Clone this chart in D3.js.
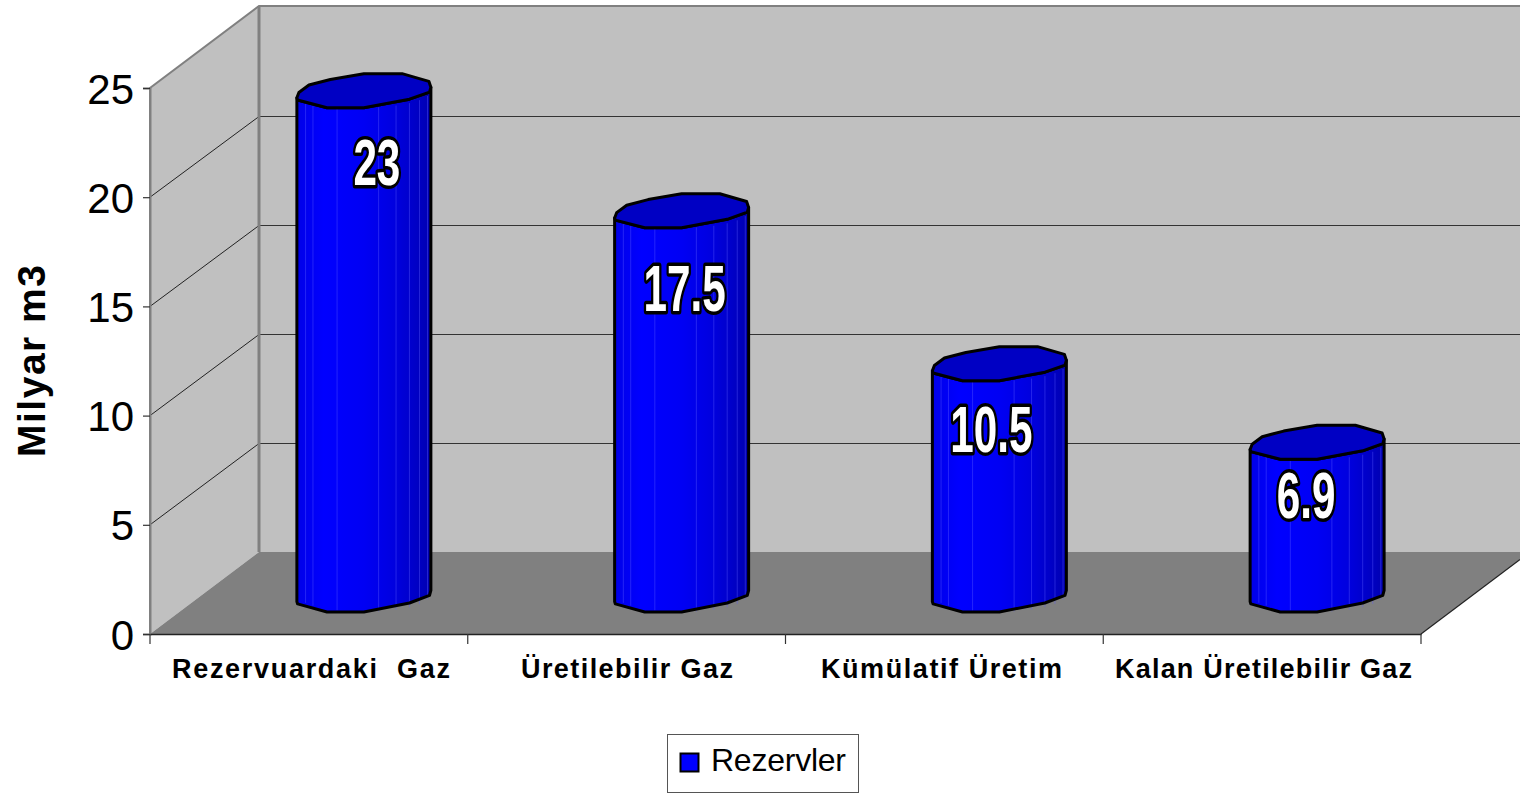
<!DOCTYPE html>
<html><head><meta charset="utf-8">
<script src="https://cdnjs.cloudflare.com/ajax/libs/d3/7.8.5/d3.min.js"></script>
<style>html,body{margin:0;background:#fff;overflow:hidden}svg{display:block;font-family:"Liberation Sans",Arial,sans-serif}</style>
</head><body><svg id="c" width="1520" height="793"></svg>
<script>
const categories = ["Rezervuardaki  Gaz","Üretilebilir Gaz","Kümülatif Üretim","Kalan Üretilebilir Gaz"];
const values = [23,17.5,10.5,6.9];
const valueLabels = ["23","17.5","10.5","6.9"];
const yTicks = [0,5,10,15,20,25];
const seriesName = "Rezervler";
const axisTitle = "Milyar m3";

const svg = d3.select("#c");
const L=150,R=1421,Y0=634,Y25=88,DX=109,DY=82;
const x = d3.scaleBand().domain(categories).range([L,R]);
const y = d3.scaleLinear().domain([0,25]).range([Y0,Y25]);

// walls and floor
const wall="#c0c0c0", floor="#808080";
svg.append("polygon").attr("fill",wall).attr("points",[[L,y(25)],[L+DX,y(25)-DY],[1520,y(25)-DY],[1520,y(0)-DY],[L+DX,y(0)-DY],[L,y(0)]].join(" "));
svg.append("polygon").attr("fill",floor).attr("points",[[L,y(0)],[L+DX,y(0)-DY],[1520,y(0)-DY],[1520,y(0)-DY+ (R+DX-1520)*DY/DX],[R,y(0)]].join(" "));
// gridlines
yTicks.slice(1,-1).forEach(t=>{
  const by=Math.round(y(t)-DY+.6)+.5;
  svg.append("line").attr("x1",L).attr("y1",y(t)).attr("x2",L+DX).attr("y2",by).attr("stroke","#222").attr("stroke-width",1);
  svg.append("line").attr("x1",L+DX).attr("y1",by).attr("x2",1520).attr("y2",by).attr("stroke","#333").attr("stroke-width",1);
});
// wall borders
const grey="#808080";
svg.append("path").attr("fill","none").attr("stroke",grey).attr("stroke-width",2)
  .attr("d",`M${L},${y(0)}V${y(25)}L${L+DX},${y(25)-DY}H1520`);
svg.append("line").attr("x1",L+DX).attr("x2",L+DX).attr("y1",y(25)-DY).attr("y2",y(0)-DY).attr("stroke",grey).attr("stroke-width",3);
svg.append("line").attr("x1",R).attr("y1",y(0)).attr("x2",1520).attr("y2",y(0)-(1520-R)*DY/DX).attr("stroke","#222").attr("stroke-width",1.2);

// axes
const gy = svg.append("g").attr("transform",`translate(${L},0)`).call(d3.axisLeft(y).tickValues(yTicks).tickSize(7).tickPadding(9));
gy.select(".domain").attr("stroke",grey).attr("stroke-width",2);
gy.selectAll("line").attr("stroke","#333").attr("stroke-width",1.2);
gy.selectAll("text").attr("font-size",42).attr("fill","#000").attr("font-family",'"Liberation Sans"').attr("dy","0.36em");
const gx = svg.append("g").attr("transform",`translate(0,${Y0})`).call(d3.axisBottom(x).tickValues([]).tickSizeOuter(0));
gx.select(".domain").attr("stroke","#222").attr("stroke-width",1.6);
const edges = d3.range(categories.length+1).map(i=>L+i*x.bandwidth());
svg.selectAll("line.xt").data(edges).join("line").attr("class","xt").attr("x1",d=>d).attr("x2",d=>d).attr("y1",Y0).attr("y2",Y0+10).attr("stroke","#333").attr("stroke-width",1.2);
const xLabelWidths=[278,212,241,297];
const xLabelCenters=[311,627,941.5,1263.5];
svg.selectAll("text.xl").data(categories).join("text").attr("class","xl")
  .attr("x",(d,i)=>xLabelCenters[i]).attr("y",678).attr("text-anchor","middle")
  .attr("font-size",27).attr("font-weight","bold").attr("xml:space","preserve").style("white-space","pre")
  .attr("textLength",(d,i)=>xLabelWidths[i]).attr("lengthAdjust","spacing").text(d=>d);
svg.append("text").attr("transform","translate(45,361) rotate(-90)").attr("text-anchor","middle")
  .attr("font-size",39).attr("font-weight","bold").attr("textLength",192).text(axisTitle);

// 3D columns
const RX=67,RY=18,RT=17,CDX=DX/2+.5,CDY=41;
const front=[[-1,.42],[-.99,.55],[-.55,1],[0,1],[.68,.5],[.98,.08],[1,-.2]];
const back=[[.97,-.55],[.57,-1],[0,-1],[-.5,-.66],[-.82,-.33],[-.97,.11]];
const seams=[-.87,-.76,-.4,.22,.48,.68,.83,.95];
const label=[[13,72],[3,78],[-8,66],[-11,54]];
const line=d3.line();
const grad=svg.append("defs").append("linearGradient").attr("id","side");
[[0,"#0000e8"],[.2,"#0000ff"],[.5,"#0000f4"],[.72,"#0000e0"],[.88,"#0000c8"],[1,"#0000b0"]].forEach(s=>grad.append("stop").attr("offset",s[0]).attr("stop-color",s[1]));

categories.forEach((c,i)=>{
  const cx=x(c)+x.bandwidth()/2+CDX, by=y(0)-CDY+1, ty=y(values[i])-CDY;
  const P=(p,yc,r)=>[cx+p[0]*RX,yc+p[1]*r];
  const g=svg.append("g");
  const side=[...front.map(p=>P(p,by,RY)),...front.slice().reverse().map(p=>P(p,ty,RT))];
  g.append("path").attr("d",line(side)+"Z").attr("fill","url(#side)");
  seams.forEach(s=>{
    const k=Math.sqrt(1-s*s);
    g.append("line").attr("x1",cx+s*RX).attr("x2",cx+s*RX).attr("y1",ty+k*RT).attr("y2",by+k*RY)
      .attr("stroke","#5a5aff").attr("stroke-opacity",.4).attr("stroke-width",1);
  });
  g.append("path").attr("d",line(side)+"Z").attr("fill","none").attr("stroke","#000").attr("stroke-width",3).attr("stroke-linejoin","round");
  const top=[...front,...back].map(p=>P(p,ty,RT));
  g.append("path").attr("d",line(top)+"Z").attr("fill","#0000c4").attr("stroke","#000").attr("stroke-width",3).attr("stroke-linejoin","round");
  svg.append("text").attr("transform",`translate(${cx+label[i][0]},${ty+label[i][1]+22}) scale(.66,1)`)
    .attr("text-anchor","middle").attr("font-size",64).attr("font-weight","bold")
    .attr("fill","#fff").attr("stroke","#000").attr("stroke-width",7).attr("paint-order","stroke").attr("stroke-linejoin","round")
    .text(valueLabels[i]);
});

// legend
svg.append("rect").attr("x",667.5).attr("y",734.5).attr("width",191).attr("height",58).attr("fill","#fff").attr("stroke","#555").attr("stroke-width",1);
svg.append("rect").attr("x",680.5).attr("y",753.5).attr("width",18).attr("height",18).attr("fill","#0000ff").attr("stroke","#000").attr("stroke-width",2);
svg.append("text").attr("x",711).attr("y",771).attr("font-size",32).attr("textLength",135).text(seriesName);
</script></body></html>
